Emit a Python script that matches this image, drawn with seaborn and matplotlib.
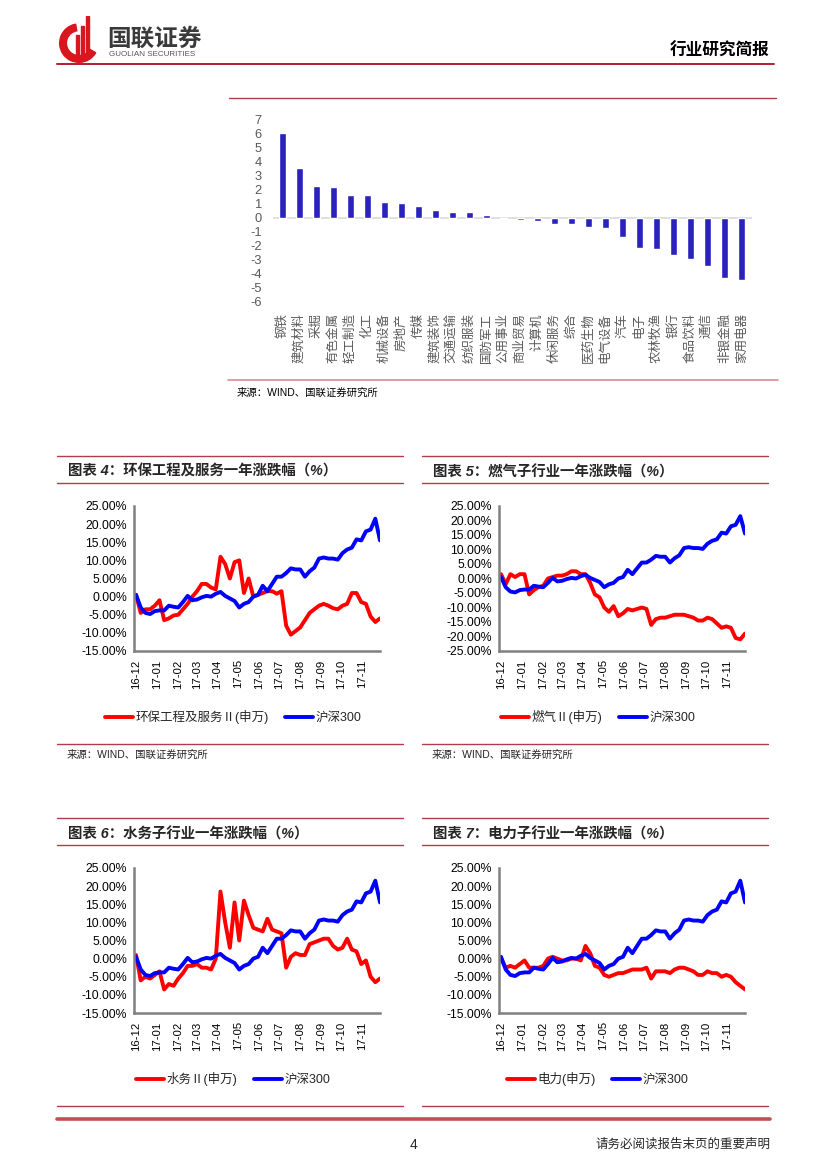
"""
Industry brief page 4: sector bar chart + four sub-industry vs HS300 line charts
"""

import matplotlib
matplotlib.use("Agg")
import matplotlib.pyplot as plt
import matplotlib.dates as mdates
from matplotlib.lines import Line2D
from matplotlib.patches import Wedge, Rectangle
from matplotlib.ticker import FuncFormatter
import seaborn as sns
import numpy as np
import pandas as pd

# ---- data: sector one-week change (%) ----
bar_cats = ['钢铁', '建筑材料', '采掘', '有色金属', '轻工制造', '化工', '机械设备', '房地产',
            '传媒', '建筑装饰', '交通运输', '纺织服装', '国防军工', '公用事业', '商业贸易',
            '计算机', '休闲服务', '综合', '医药生物', '电气设备', '汽车', '电子', '农林牧渔',
            '银行', '食品饮料', '通信', '非银金融', '家用电器']
bar_vals = [6.1, 3.6, 2.3, 2.25, 1.65, 1.65, 1.15, 1.1, 0.85, 0.55, 0.45, 0.4, 0.2, -0.05,
            -0.12, -0.2, -0.45, -0.45, -0.65, -0.7, -1.35, -2.15, -2.2, -2.65, -2.9, -3.4,
            -4.25, -4.45]

# ---- data: one-year cumulative change (%), roughly weekly ----
dates = pd.date_range('2016-12-01', '2017-11-28', periods=53)

hs300 = [0.5, -3.0, -4.5, -4.8, -4.0, -3.8, -3.8, -2.5, -2.8, -3.0, -1.5, 0.2, -1.0, -0.8,
         -0.2, 0.2, 0.0, 0.8, 1.3, 0.2, -0.5, -1.2, -3.0, -2.0, -1.5, 0.0, 0.5, 3.0, 1.5,
         3.5, 5.5, 5.5, 6.5, 7.8, 7.5, 7.5, 5.5, 7.0, 8.0, 10.5, 10.8, 10.5, 10.5, 10.2,
         12.0, 13.0, 13.5, 15.8, 15.5, 18.0, 18.5, 21.5, 15.5]
huanbao = [0.5, -4.5, -3.5, -3.5, -2.5, -1.0, -6.5, -6.0, -5.2, -5.0, -3.5, -2.0, 0.0, 1.5,
           3.5, 3.5, 2.5, 2.0, 11.0, 9.0, 5.0, 9.5, 10.0, 1.0, 5.0, 0.0, 0.5, 1.0, 1.5, 1.5,
           0.8, 1.5, -8.0, -10.5, -9.5, -8.5, -6.5, -4.5, -3.5, -2.5, -2.0, -2.5, -3.2, -3.5,
           -2.5, -2.0, 1.0, 1.0, -1.5, -2.0, -5.5, -7.0, -6.0]
ranqi = [1.5, -2.0, 1.5, 0.5, 1.5, 1.5, -5.5, -4.0, -3.0, -2.5, 0.0, 0.5, 1.0, 1.0, 1.5, 2.5,
         2.5, 1.5, 1.5, -1.5, -5.5, -6.5, -10.0, -11.5, -9.5, -13.0, -12.0, -10.5, -11.0,
         -10.5, -10.0, -10.5, -16.0, -14.0, -13.5, -13.5, -13.0, -12.5, -12.5, -12.5, -13.0,
         -13.5, -14.5, -14.5, -13.5, -14.0, -15.5, -17.0, -16.5, -17.0, -20.5, -21.0, -19.0]
shuiwu = [1.0, -6.0, -5.0, -5.5, -4.5, -3.5, -8.5, -7.0, -7.5, -5.5, -4.0, -2.0, -2.0, -1.5,
          -2.5, -2.5, -3.0, 0.0, 18.5, 10.0, 3.0, 15.5, 5.0, 16.0, 12.0, 8.5, 8.0, 7.5, 11.0,
          8.0, 7.5, 7.0, -2.5, 0.5, 1.5, 1.0, 1.0, 4.0, 4.5, 5.0, 5.5, 5.5, 3.5, 2.5, 3.0,
          5.5, 2.5, 2.0, -1.5, -0.5, -5.0, -6.5, -5.5]
dianli = [0.0, -2.5, -2.0, -2.5, -1.5, -0.5, -2.5, -2.5, -2.5, -2.0, 0.0, 0.5, 0.0, -0.5,
          -0.5, 0.0, 0.0, -0.5, 3.5, 1.5, -2.0, -2.5, -4.5, -5.0, -4.5, -4.0, -4.0, -3.5,
          -3.0, -3.0, -3.0, -2.5, -5.5, -3.5, -3.5, -3.5, -4.0, -3.0, -2.5, -2.5, -3.0, -3.5,
          -4.5, -4.5, -3.5, -4.0, -4.0, -5.0, -4.5, -5.0, -6.5, -7.5, -8.5]

month_ticks = pd.date_range('2016-12-01', '2017-11-01', freq='MS')

sns.set_theme(style='white')
plt.rcParams['font.family'] = ['Liberation Sans', 'Noto Sans CJK SC', 'DejaVu Sans']
plt.rcParams['axes.unicode_minus'] = False

W, H = 827, 1169
fig = plt.figure(figsize=(W / 100, H / 100), dpi=100)

LINE_RED = '#B33A4A'
THICK_RED = '#C0504D'


def fx(x):
    return x / W


def fy(y):
    return 1 - y / H


def add_ax(x0, y0, x1, y1):
    return fig.add_axes([fx(x0), fy(y1), (x1 - x0) / W, (y1 - y0) / H])


def hline(x0, x1, y, color=LINE_RED, lw=1.0):
    fig.add_artist(Line2D([fx(x0), fx(x1)], [fy(y), fy(y)], color=color, lw=lw,
                          transform=fig.transFigure))


def text(x, y, s, **kw):
    fig.text(fx(x), fy(y), s, **kw)


# ---- header ----
logo = add_ax(58, 16, 100, 64)
logo.set_xlim(0, 1)
logo.set_ylim(0, 1.15)
logo.axis('off')
logo.add_patch(Wedge((0.5, 0.5), 0.46, 100, 330, width=0.16, color='#D7161E'))
for bx, bh in [(0.42, 0.55), (0.54, 0.75), (0.66, 1.0)]:
    logo.add_patch(Rectangle((bx, 0.15), 0.07, bh, color='#D7161E'))
text(107, 39, '国联证券', fontsize=17, fontweight='bold', color='#3A3A3A', va='center')
text(109, 54, 'GUOLIAN SECURITIES', fontsize=5.8, color='#555555', va='center')
text(769, 51, '行业研究简报', fontsize=12, fontweight='bold', color='black',
     ha='right', va='center')
hline(57, 774, 64, color='#B0202E', lw=1.4)

# ---- sector bar chart ----
hline(229, 776, 98, color=LINE_RED, lw=1.0)
axb = add_ax(273, 120, 752, 302)
sns.barplot(x=bar_cats, y=bar_vals, color='#2B22BE', saturation=1, width=0.4,
            ax=axb, zorder=3)
axb.axhline(0, color='#D9D9D9', lw=1.2, zorder=2)
axb.set_ylim(-6, 7)
axb.set_xlim(-0.55, 27.6)
axb.set_yticks(range(-6, 8))
axb.set_xlabel('')
axb.set_ylabel('')
for s in axb.spines.values():
    s.set_visible(False)
axb.tick_params(axis='y', length=0, pad=8, labelsize=9.3, labelcolor='#595959')
axb.tick_params(axis='x', length=0, pad=8, labelsize=9, labelcolor='#595959',
                labelrotation=90)
for lab in axb.get_xticklabels():
    lab.set_va('top')
axb.set_facecolor('none')
hline(228, 778, 380, color='#D98A96', lw=1.2)
text(237, 393, '来源：WIND、国联证券研究所', fontsize=7.5, color='black', va='center')


# ---- line chart panels ----
def pct(v, _):
    return f'{v:.2f}%'


def line_panel(px, py, title, red_name, red_vals, ylim, legend_cx, source=True):
    # px, py: panel left edge and top line y
    hline(px, px + 346, py)
    text(px + 11, py + 16, title, fontsize=10.4, fontweight='bold', style='italic',
         va='center')
    hline(px, px + 346, py + 27)

    ax = add_ax(px + 77, py + 50, px + 323, py + 195)
    sns.lineplot(x=dates, y=red_vals, color='#FF0000', lw=2.8, ax=ax, label=red_name)
    sns.lineplot(x=dates, y=hs300, color='#0000FF', lw=2.8, ax=ax, label='沪深300')
    ax.set_ylim(*ylim)
    ax.set_yticks(np.arange(ylim[0], ylim[1] + 1, 5))
    ax.yaxis.set_major_formatter(FuncFormatter(pct))
    ax.set_xlim(dates[0] - pd.Timedelta(days=3), dates[-1])
    ax.set_xticks(month_ticks)
    ax.xaxis.set_major_formatter(mdates.DateFormatter('%y-%m'))
    ax.set_xlabel('')
    ax.set_ylabel('')
    ax.spines['top'].set_visible(False)
    ax.spines['right'].set_visible(False)
    for side in ['left', 'bottom']:
        ax.spines[side].set_color('#808080')
        ax.spines[side].set_linewidth(1.8)
    ax.tick_params(axis='both', direction='out', length=3, width=1, color='#808080',
                   labelsize=8.8, labelcolor='black', pad=2)
    ax.tick_params(axis='x', labelrotation=90, labelsize=8.2, pad=3)
    ax.set_facecolor('none')
    ax.legend(loc='center', bbox_to_anchor=(fx(legend_cx), fy(py + 261)),
              bbox_transform=fig.transFigure, ncol=2, frameon=False, fontsize=9,
              handlelength=2.25, handletextpad=0.2, columnspacing=1.3)
    hline(px, px + 346, py + 288)
    if source:
        text(px + 10, py + 299, '来源：WIND、国联证券研究所', fontsize=7.5, va='center')
    return ax


line_panel(57, 456, '图表 4：环保工程及服务一年涨跌幅（%）', '环保工程及服务Ⅱ(申万)',
           huanbao, (-15, 25), 233)
line_panel(422, 456, '图表 5：燃气子行业一年涨跌幅（%）', '燃气Ⅱ(申万)',
           ranqi, (-25, 25), 598)
line_panel(57, 818, '图表 6：水务子行业一年涨跌幅（%）', '水务Ⅱ(申万)',
           shuiwu, (-15, 25), 233, source=False)
line_panel(422, 818, '图表 7：电力子行业一年涨跌幅（%）', '电力(申万)',
           dianli, (-15, 25), 598, source=False)

# ---- footer ----
hline(57, 770, 1119, color=THICK_RED, lw=2.6)
text(413, 1145, '4', fontsize=10, ha='center', va='center')
text(770, 1145, '请务必阅读报告末页的重要声明', fontsize=9, ha='right', va='center')

fig.savefig('out.png', dpi=100)
print("saved out.png")
